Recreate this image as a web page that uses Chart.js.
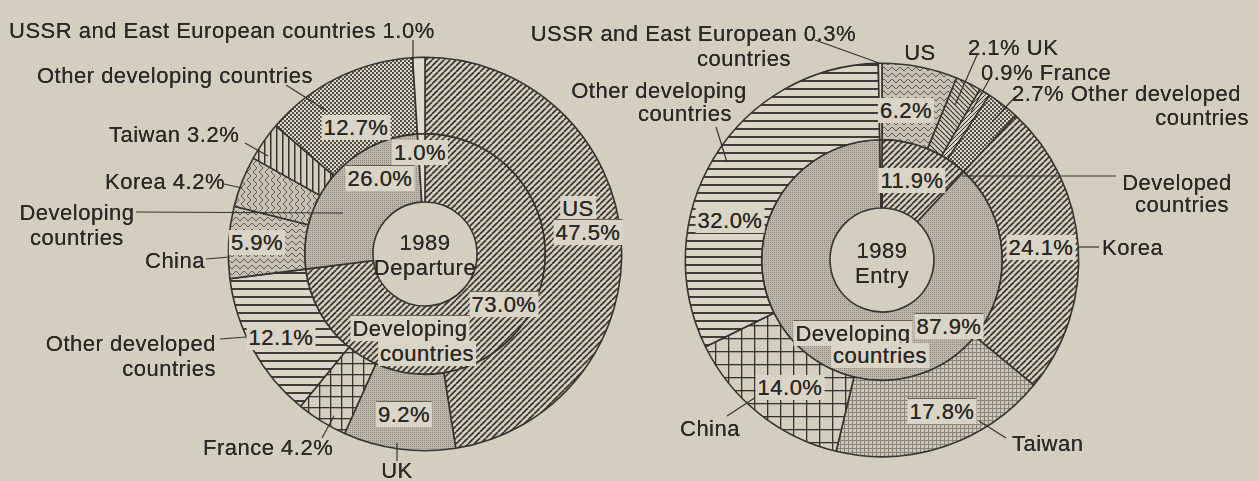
<!DOCTYPE html>
<html>
<head>
<meta charset="utf-8">
<script src="https://cdn.jsdelivr.net/npm/chart.js@4.4.0/dist/chart.umd.min.js"></script>
<style>
html, body { margin: 0; padding: 0; }
body { width: 1259px; height: 481px; background: #d3cebe; position: relative; overflow: hidden;
       font-family: "Liberation Sans", Arial, sans-serif; color: #2b2926; }
.wrap { position: absolute; left: 0; top: 0; width: 1259px; height: 481px; }
.lbl { position: absolute; font-size: 22px; letter-spacing: 0.5px; line-height: 25px; white-space: pre;
       text-shadow: 0 0 0.6px #2b2926; }
.box { background: #d9d4c6; padding: 0 2px; }
.line { border-top: 1px solid rgba(52,50,46,0.7); }
</style>
</head>
<body>
<div class="wrap"><canvas id="left"></canvas></div>
<div class="wrap"><canvas id="right"></canvas></div>
<div id="labels"></div>
<script>
// 1989 departure (left) and entry (right), shares in %
var leftOuterLabels = ['US', 'UK', 'France', 'Other developed countries', 'China', 'Korea', 'Taiwan',
                       'Other developing countries', 'USSR and East European countries'];
var leftOuterValues = [47.5, 9.2, 4.2, 12.1, 5.9, 4.2, 3.2, 12.7, 1.0];
var leftInnerLabels = ['Developed countries', 'Developing countries', 'USSR and East European countries'];
var leftInnerValues = [73.0, 26.0, 1.0];

var rightOuterLabels = ['US', 'UK', 'France', 'Other developed countries', 'Korea', 'Taiwan', 'China',
                        'Other developing countries', 'USSR and East European countries'];
var rightOuterValues = [6.2, 2.1, 0.9, 2.7, 24.1, 17.8, 14.0, 32.0, 0.3];
var rightInnerLabels = ['Developed countries', 'Developing countries', 'USSR and East European countries'];
var rightInnerValues = [11.9, 87.9, 0.3];

var INK = '#363430';
var PAPER = '#d3cebe';

function pct(v) { return v.toFixed(1) + '%'; }

function makePattern(w, h, bg, draw) {
	var c = document.createElement('canvas');
	c.width = w; c.height = h;
	var g = c.getContext('2d');
	g.fillStyle = bg; g.fillRect(0, 0, w, h);
	g.strokeStyle = INK; g.fillStyle = INK;
	draw(g, w, h);
	return g.createPattern(c, 'repeat');
}

function diagonal(size, width, back) {
	return makePattern(size, size, PAPER, function(g, w, h) {
		g.lineWidth = width;
		for (var i = -w; i <= w; i += w) {
			g.beginPath();
			if (back) { g.moveTo(i, 0); g.lineTo(i + w, h); }
			else { g.moveTo(i, h); g.lineTo(i + w, 0); }
			g.stroke();
		}
	});
}

function grid(size) {
	return makePattern(size, size, PAPER, function(g, w, h) {
		g.fillRect(0, 0, w, 1.3);
		g.fillRect(0, 0, 1.3, h);
	});
}

var pat = {
	diag: diagonal(6, 1.6, false),
	diagThin: diagonal(4, 1, false),
	backDiag: diagonal(5, 1.2, true),
	stipple: makePattern(2, 2, '#bcb7aa', function(g) { g.fillStyle = '#8f8b81'; g.fillRect(0, 0, 1, 1); }),
	fineGrid: makePattern(4, 4, '#cbc6b8', function(g) {
		g.fillStyle = '#88847a'; g.fillRect(0, 0, 4, 1); g.fillRect(0, 0, 1, 4);
	}),
	gridS: grid(11),
	gridL: grid(13),
	hlines: makePattern(4, 8, '#dad5c7', function(g) { g.fillStyle = '#403d38'; g.fillRect(0, 0, 4, 2); }),
	vlines: makePattern(6, 4, PAPER, function(g) { g.fillRect(0, 0, 1.5, 4); }),
	chevron: makePattern(8, 6, '#c6c1b2', function(g) {
		g.strokeStyle = '#5f5c55'; g.lineWidth = 1;
		g.beginPath(); g.moveTo(0, 5); g.lineTo(4, 1); g.lineTo(8, 5); g.stroke();
	}),
	chevronV: makePattern(6, 8, '#c6c1b2', function(g) {
		g.strokeStyle = '#5f5c55'; g.lineWidth = 1;
		g.beginPath(); g.moveTo(5, 0); g.lineTo(1, 4); g.lineTo(5, 8); g.stroke();
	}),
	checker: makePattern(4, 4, '#dcd7c9', function(g) {
		g.fillStyle = '#504d46'; g.fillRect(0, 0, 2, 2); g.fillRect(2, 2, 2, 2);
	}),
	blank: '#dfdbcd'
};

function leaderPlugin(lines) {
	return {
		id: 'leaders',
		afterDatasetsDraw: function(chart) {
			var ctx = chart.ctx;
			ctx.save();
			ctx.strokeStyle = INK;
			ctx.lineWidth = 1.2;
			lines.forEach(function(l) {
				ctx.beginPath(); ctx.moveTo(l[0], l[1]); ctx.lineTo(l[2], l[3]); ctx.stroke();
			});
			ctx.restore();
		}
	};
}

function makeChart(id, labels, outer, inner, outerFill, innerFill, pad, lines) {
	return new Chart(document.getElementById(id), {
		type: 'doughnut',
		data: {
			labels: labels,
			datasets: [
				{ data: outer, backgroundColor: outerFill, borderColor: INK, borderWidth: 1.6, weight: 76 },
				{ data: inner, backgroundColor: innerFill, borderColor: INK, borderWidth: 1.6, weight: 68 }
			]
		},
		options: {
			responsive: true,
			maintainAspectRatio: false,
			animation: false,
			events: [],
			cutout: 52,
			offset: 0,
			hoverOffset: 0,
			layout: { padding: pad },
			plugins: { legend: { display: false }, tooltip: { enabled: false } }
		},
		plugins: [leaderPlugin(lines)]
	});
}

makeChart('left', leftOuterLabels, leftOuterValues, leftInnerValues,
	[pat.diag, pat.stipple, pat.gridS, pat.hlines, pat.chevron, pat.chevronV, pat.vlines, pat.checker, pat.blank],
	[pat.diag, pat.stipple, pat.blank],
	{ left: 227.5, top: 56.5, right: 636.5, bottom: 29.5 },
	[[413, 40, 413, 72], [286, 85, 327, 111], [245, 143, 268, 156], [224, 184, 242, 188],
	 [136, 212, 343, 213], [206, 259, 230, 257], [220, 339, 246, 337], [322, 438, 334, 416],
	 [397, 443, 397, 461]]);

makeChart('right', rightOuterLabels, rightOuterValues, rightInnerValues,
	[pat.chevron, pat.backDiag, pat.diagThin, pat.checker, pat.diag, pat.fineGrid, pat.gridL, pat.hlines, pat.blank],
	[pat.diag, pat.stipple, pat.blank],
	{ left: 684.5, top: 62.5, right: 179.5, bottom: 23.5 },
	[[815, 40, 879, 63], [977, 55, 955, 105], [990, 78, 971, 112], [1015, 97, 992, 122],
	 [716, 127, 727, 162], [962, 176, 1116, 176], [1079, 247, 1099, 247], [727, 416, 756, 397],
	 [1006, 438, 979, 421]]);

// text: [text, x, y, align, style]
var L = leftOuterValues, LI = leftInnerValues, R = rightOuterValues, RI = rightInnerValues;
var texts = [
	[leftOuterLabels[8] + ' ' + pct(L[8]), 9, 30, 'l'],
	['Other developing countries', 37, 75, 'l'],
	[pct(L[7]), 356, 127, 'c', 'box'],
	['Taiwan ' + pct(L[6]), 109, 134, 'l'],
	[pct(LI[2]), 420, 152, 'c', 'box'],
	[pct(LI[1]), 380, 177, 'c', 'box line'],
	['Korea ' + pct(L[5]), 105, 181, 'l'],
	['Developing\ncountries', 77, 212, 'c'],
	['US', 578, 208, 'c', 'box'],
	[pct(L[0]), 588, 231, 'c', 'box line'],
	[pct(L[4]), 257, 242, 'c', 'box'],
	['China', 145, 260, 'l'],
	['1989\nDeparture', 425, 242, 'c'],
	[pct(LI[0]), 504, 303, 'c', 'box line'],
	['Developing', 410, 327, 'c', 'box line'],
	['countries', 427, 353, 'c', 'box'],
	[pct(L[3]), 281, 337, 'c', 'box'],
	['Other developed\ncountries', 216, 343, 'r'],
	[pct(L[1]), 404, 413, 'c', 'box line'],
	['France ' + pct(L[2]), 203, 447, 'l'],
	['UK', 397, 470, 'c'],

	['USSR and East European ' + pct(R[8]), 856, 33, 'r'],
	['countries', 744, 58, 'c'],
	['US', 920, 52, 'c'],
	[pct(R[1]) + ' UK', 968, 47, 'l'],
	[pct(R[2]) + ' France', 981, 72, 'l'],
	[pct(R[3]) + ' Other developed', 1012, 93, 'l'],
	['countries', 1249, 117, 'r'],
	['Other developing', 659, 90, 'c'],
	['countries', 685, 113, 'c'],
	[pct(R[0]), 906, 110, 'c', 'box'],
	[pct(RI[0]), 912, 180, 'c', 'box'],
	['Developed', 1177, 182, 'c'],
	['countries', 1182, 204, 'c'],
	[pct(R[7]), 730, 220, 'c', 'box'],
	[pct(R[4]), 1041, 247, 'c', 'box'],
	['Korea', 1102, 247, 'l'],
	['1989\nEntry', 882, 250, 'c'],
	[pct(RI[1]), 949, 325, 'c', 'box line'],
	['Developing', 853, 332, 'c', 'box line'],
	['countries', 880, 355, 'c', 'box'],
	[pct(R[6]), 790, 387, 'c', 'box'],
	[pct(R[5]), 942, 410, 'c', 'box line'],
	['China', 680, 428, 'l'],
	['Taiwan', 1012, 443, 'l']
];

var holder = document.getElementById('labels');
texts.forEach(function(t) {
	var d = document.createElement('div');
	d.className = 'lbl' + (t[4] ? ' ' + t[4] : '');
	d.textContent = t[0];
	d.style.left = t[1] + 'px';
	d.style.top = (t[2] - 12.5) + 'px';
	if (t[3] === 'c') { d.style.transform = 'translateX(-50%)'; d.style.textAlign = 'center'; }
	if (t[3] === 'r') { d.style.transform = 'translateX(-100%)'; d.style.textAlign = 'right'; }
	holder.appendChild(d);
});
</script>
</body>
</html>
